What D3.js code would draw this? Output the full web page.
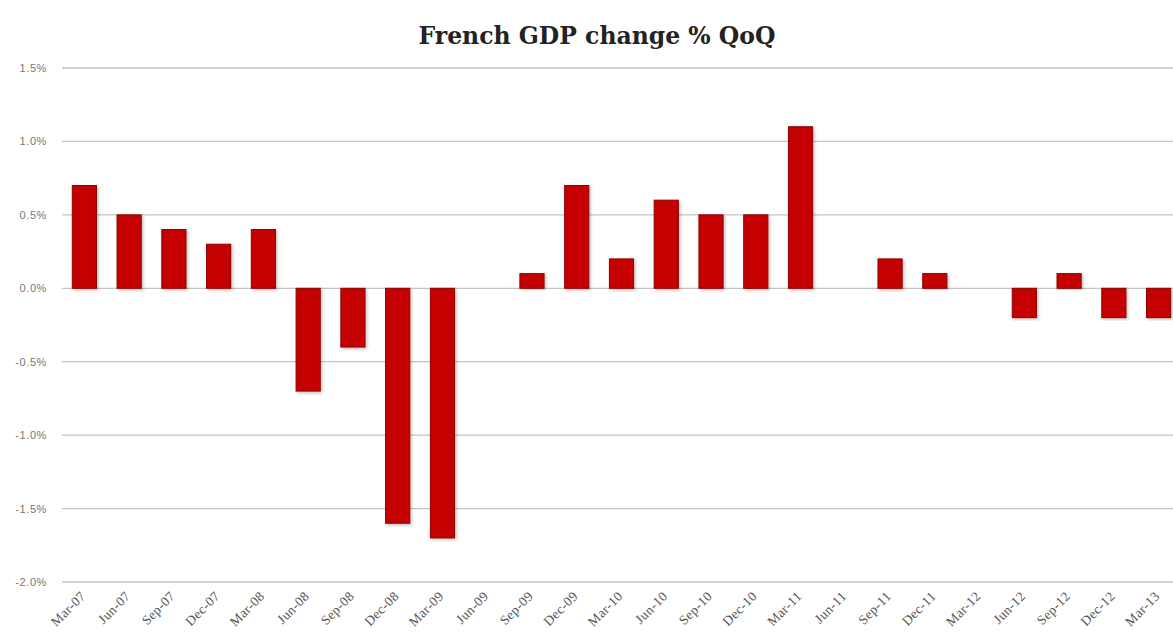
<!DOCTYPE html>
<html>
<head>
<meta charset="utf-8">
<script src="https://cdn.jsdelivr.net/npm/d3@7"></script>
<style>
  body { margin: 0; background: #fff; }
  svg { display: block; }
</style>
</head>
<body>
<div id="chart"></div>
<script>
var quarters = ["Mar-07","Jun-07","Sep-07","Dec-07","Mar-08","Jun-08","Sep-08","Dec-08","Mar-09","Jun-09",
  "Sep-09","Dec-09","Mar-10","Jun-10","Sep-10","Dec-10","Mar-11","Jun-11","Sep-11","Dec-11",
  "Mar-12","Jun-12","Sep-12","Dec-12","Mar-13"];
var gdpChange = [0.7, 0.5, 0.4, 0.3, 0.4, -0.7, -0.4, -1.6, -1.7, 0.0,
  0.1, 0.7, 0.2, 0.6, 0.5, 0.5, 1.1, 0.0, 0.2, 0.1,
  0.0, -0.2, 0.1, -0.2, -0.2];
var yTicks = [-2.0, -1.5, -1.0, -0.5, 0.0, 0.5, 1.0, 1.5];

var width = 1173, height = 638;

var svg = d3.select("#chart").append("svg")
  .attr("width", width)
  .attr("height", height);

var x = d3.scaleBand()
  .domain(quarters)
  .range([62, 1181])
  .paddingInner(0.46)
  .paddingOuter(0.23);

var y = d3.scaleLinear()
  .domain([-2.0, 1.5])
  .range([582, 68]);

// gridlines
svg.append("g")
  .selectAll("line")
  .data(yTicks)
  .enter()
  .append("line")
    .attr("x1", 62)
    .attr("x2", width)
    .attr("y1", function(d) { return y(d); })
    .attr("y2", function(d) { return y(d); })
    .style("stroke", "#c4c4c4")
    .style("stroke-width", 1.3);

// y labels
svg.append("g")
  .selectAll("text")
  .data(yTicks)
  .enter()
  .append("text")
    .attr("x", 47)
    .attr("y", function(d) { return y(d) + 4; })
    .attr("text-anchor", "end")
    .style("font-family", "'Liberation Sans', Arial, sans-serif")
    .style("font-size", "11px")
    .style("letter-spacing", "0.6px")
    .style("fill", "#777")
    .text(function(d) { return d.toFixed(1) + "%"; });

// shadow filter
var defs = svg.append("defs");
var f = defs.append("filter").attr("id", "shadow")
  .attr("x", "-20%").attr("y", "-10%").attr("width", "150%").attr("height", "120%");
f.append("feDropShadow")
  .attr("dx", 1.5).attr("dy", 1.5).attr("stdDeviation", 1.5)
  .attr("flood-color", "#000").attr("flood-opacity", 0.25);

// bars
svg.append("g")
  .selectAll("rect")
  .data(quarters)
  .enter()
  .filter(function(d, i) { return gdpChange[i] !== 0; })
  .append("rect")
    .attr("x", function(d) { return x(d); })
    .attr("width", x.bandwidth())
    .attr("y", function(d) { var v = gdpChange[quarters.indexOf(d)]; return y(Math.max(0, v)); })
    .attr("height", function(d) { var v = gdpChange[quarters.indexOf(d)]; return Math.abs(y(v) - y(0)); })
    .attr("fill", "#c40000")
    .attr("stroke", "#8e0000")
    .attr("stroke-width", 1)
    .attr("filter", "url(#shadow)");

// x labels
svg.append("g")
  .selectAll("text")
  .data(quarters)
  .enter()
  .append("text")
    .attr("transform", function(d) {
      return "translate(" + (x(d) + x.bandwidth() / 2 + 2) + ",597) rotate(-45)";
    })
    .attr("text-anchor", "end")
    .style("font-family", "'Liberation Serif', 'DejaVu Serif', serif")
    .style("font-size", "13.5px")
    .style("letter-spacing", "0.4px")
    .style("fill", "#555")
    .text(function(d) { return d; });

// title
svg.append("text")
  .attr("x", 597)
  .attr("y", 44)
  .attr("text-anchor", "middle")
  .style("font-family", "'DejaVu Serif', 'Liberation Serif', serif")
  .style("font-weight", "bold")
  .style("font-size", "23.5px")
  .style("fill", "#222")
  .text("French GDP change % QoQ");
</script>
</body>
</html>
